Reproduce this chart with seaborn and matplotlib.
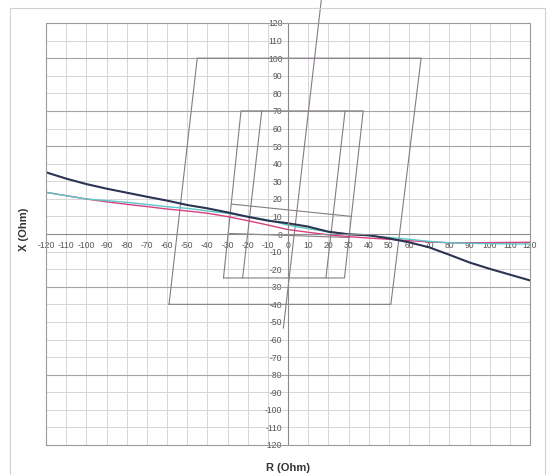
import numpy as np
import matplotlib
matplotlib.use("Agg")
import matplotlib.pyplot as plt
import seaborn as sns
from matplotlib.patches import Rectangle

# grid / tick values
ticks = list(range(-120, 121, 10))
dark_grid_x = [100, 70, 50, -30, -80]

# distance protection zones (R, X in Ohm)
zone_outer_r = [-59, 51, 66, -45, -59]
zone_outer_x = [-40, -40, 100, 100, -40]
zone_inner_r = [-32, 28, 37.3, -23.3, -32]
zone_inner_x = [-25, -25, 70, 70, -25]
zone_mid_left_r = [-22.5, -13]
zone_mid_left_x = [-25, 70]
zone_mid_right_r = [18.8, 28.3]
zone_mid_right_x = [-25, 70]
dir_upper_r = [-28, 31.5]
dir_upper_x = [17, 10]
dir_lower_r = [-29, 30.5]
dir_lower_x = [0.3, -2]
char_line_r = [-2.3, 16.5]
char_line_x = [-53.6, 133]

# load trajectories
load_r = [-120, -110, -100, -90, -80, -70, -60, -50, -40, -30, -20, -10, 0,
          10, 20, 30, 40, 50, 60, 70, 80, 90, 100, 110, 120]
load_dark = [35.1, 31.5, 28.4, 25.8, 23.5, 21.2, 19.0, 16.5, 14.6, 12.3, 9.8, 7.6, 6.1,
             4.2, 1.3, -0.2, -0.7, -2.5, -4.7, -7.6, -11.8, -16.2, -19.8, -23.1, -26.4]
load_cyan = [23.7, 21.8, 19.9, 19.0, 18.0, 16.8, 15.5, 14.6, 13.1, 11.8, 9.9, 8.0, 5.0,
             3.0, 1.3, 0.0, -1.0, -2.0, -3.0, -4.2, -5.0, -5.3, -5.5, -5.6, -5.7]
load_magenta = [23.7, 21.8, 19.9, 18.3, 16.9, 15.6, 14.2, 13.1, 11.8, 9.9, 7.6, 5.1, 2.5,
                1.0, -0.5, -1.5, -2.3, -3.0, -3.8, -4.5, -5.0, -5.0, -4.9, -4.8, -4.7]

sns.set_style("white")
plt.rcParams["font.family"] = ["Liberation Sans", "DejaVu Sans"]
plt.rcParams["axes.unicode_minus"] = False

fig, ax = plt.subplots(figsize=(5.48, 4.75), dpi=100)
fig.subplots_adjust(left=46/548, right=530/548, top=1-23/475, bottom=1-445/475)

ax.set_xlim(-120, 120)
ax.set_ylim(-120, 120)
ax.set_xticks(ticks)
ax.set_yticks(ticks)
ax.grid(True, color="#d6d6d6", linewidth=0.7)
for v in dark_grid_x:
    ax.axhline(v, color="#a4a4a4", linewidth=0.8, zorder=1)

zone_col = "#857b86"
kw = dict(sort=False, estimator=None, color=zone_col, linewidth=0.8, ax=ax)
sns.lineplot(x=zone_outer_r, y=zone_outer_x, **kw)
sns.lineplot(x=zone_inner_r, y=zone_inner_x, **kw)
sns.lineplot(x=zone_mid_left_r, y=zone_mid_left_x, **kw)
sns.lineplot(x=zone_mid_right_r, y=zone_mid_right_x, **kw)
sns.lineplot(x=dir_upper_r, y=dir_upper_x, **kw)
sns.lineplot(x=dir_lower_r, y=dir_lower_x, **kw)
l = sns.lineplot(x=char_line_r, y=char_line_x, **kw)
l.lines[-1].set_clip_on(False)

sns.lineplot(x=load_r, y=load_magenta, color="#d9407e", linewidth=1.0, ax=ax)
sns.lineplot(x=load_r, y=load_cyan, color="#5cc6c8", linewidth=1.0, ax=ax)
sns.lineplot(x=load_r, y=load_dark, color="#2b3450", linewidth=1.5, ax=ax)

# axes crossing at zero, Excel style
for s in ["top", "right"]:
    ax.spines[s].set_visible(False)
ax.spines["left"].set_position("zero")
ax.spines["bottom"].set_position("zero")
ax.spines["left"].set_color("#8a8a8a")
ax.spines["bottom"].set_color("#8a8a8a")
ax.spines["left"].set_linewidth(0.8)
ax.spines["bottom"].set_linewidth(0.8)
ax.tick_params(axis="both", direction="inout", length=4, width=0.6, color="#8a8a8a",
               labelsize=6.2, labelcolor="#555555")
ax.tick_params(axis="x", pad=3)
ax.tick_params(axis="y", pad=2)
ax.add_patch(Rectangle((0, 0), 1, 1, transform=ax.transAxes, fill=False,
                       edgecolor="#9a9a9a", linewidth=0.8, clip_on=False, zorder=3))

ax.set_xlabel("R (Ohm)", fontsize=8, fontweight="bold", color="#333333")
ax.set_ylabel("X (Ohm)", fontsize=8, fontweight="bold", color="#333333")
ax.xaxis.set_label_coords(0.5, -0.043)
ax.yaxis.set_label_coords(-0.035, 0.51)

fig.patches.append(Rectangle((10/548, -0.01), 535/548, 1.01 - 8/475, transform=fig.transFigure,
                             fill=False, edgecolor="#d0d0d0", linewidth=0.8))

plt.savefig("out.png", dpi=100)
